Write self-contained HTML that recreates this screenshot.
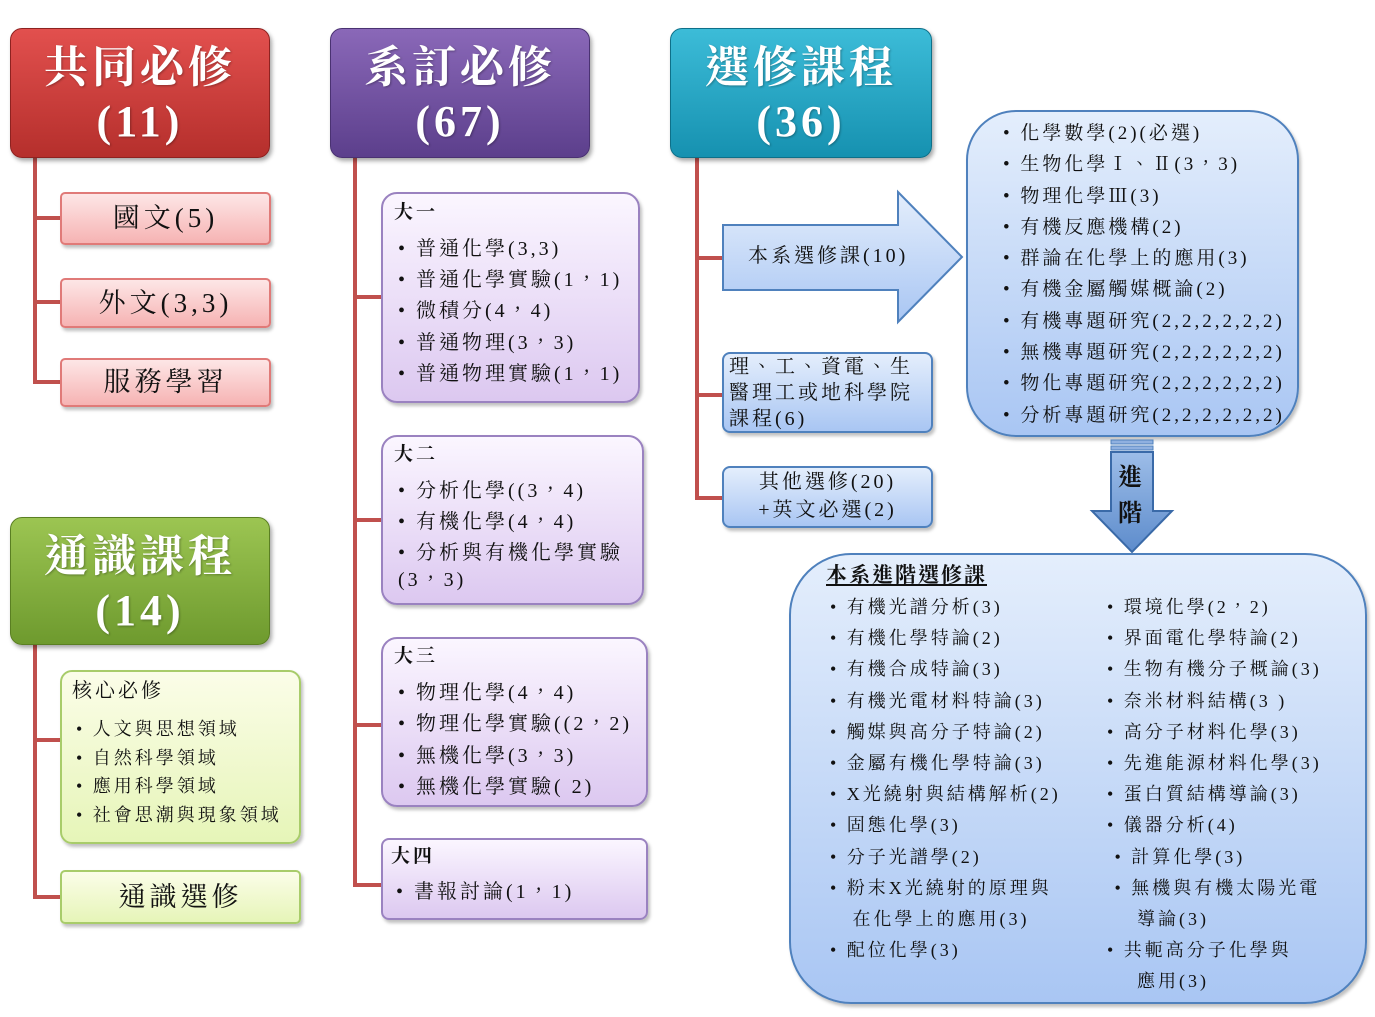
<!DOCTYPE html>
<html><head><meta charset="utf-8"><style>
body{margin:0;width:1375px;height:1017px;background:#fff;position:relative;overflow:hidden;font-family:"Liberation Serif","Noto Serif CJK TC","Noto Serif CJK SC",serif;color:#111}
div{position:absolute;box-sizing:border-box}
.hd{border-radius:12px;color:#fff;text-align:center;font-size:44px;line-height:54px;padding-top:12px;letter-spacing:4px;font-weight:bold;box-shadow:2px 3px 4px rgba(0,0,0,.35);text-shadow:1px 1px 2px rgba(0,0,0,.3)}
.ln{background:#c0504d}
.pk{background:linear-gradient(#fde6e6,#f6b3b3);border:2px solid #e07a78;border-radius:5px;text-align:center;font-size:27px;letter-spacing:4px;box-shadow:2px 3px 3px rgba(0,0,0,.25)}
.pu{background:linear-gradient(#fbf6ff,#dcc8f0);border:2px solid #9a82c0;border-radius:16px;box-shadow:2px 3px 3px rgba(0,0,0,.25)}
.gr{background:linear-gradient(#fbfde8,#e6f5b8);border:2px solid #a8cc6a;border-radius:12px;box-shadow:2px 3px 3px rgba(0,0,0,.25)}
.bl{background:linear-gradient(#e4eefc,#a9c6f3);border:2px solid #4f81bd;box-shadow:2px 3px 3px rgba(0,0,0,.25)}
.tx{white-space:nowrap;letter-spacing:3px}
</style></head><body>

<div class="ln" style="left:33px;top:158px;width:4px;height:226px"></div>
<div class="ln" style="left:33px;top:216px;width:28px;height:4px"></div>
<div class="ln" style="left:33px;top:300px;width:28px;height:4px"></div>
<div class="ln" style="left:33px;top:380px;width:28px;height:4px"></div>

<div class="ln" style="left:33px;top:645px;width:4px;height:254px"></div>
<div class="ln" style="left:33px;top:738px;width:28px;height:4px"></div>
<div class="ln" style="left:33px;top:895px;width:28px;height:4px"></div>

<div class="ln" style="left:353px;top:158px;width:4px;height:729px"></div>
<div class="ln" style="left:353px;top:295px;width:29px;height:4px"></div>
<div class="ln" style="left:353px;top:518px;width:29px;height:4px"></div>
<div class="ln" style="left:353px;top:723px;width:29px;height:4px"></div>
<div class="ln" style="left:353px;top:883px;width:29px;height:4px"></div>

<div class="ln" style="left:695px;top:158px;width:4px;height:342px"></div>
<div class="ln" style="left:695px;top:256px;width:28px;height:4px"></div>
<div class="ln" style="left:695px;top:393px;width:28px;height:4px"></div>
<div class="ln" style="left:695px;top:496px;width:28px;height:4px"></div>

<div class="hd" style="left:10px;top:28px;width:260px;height:130px;background:linear-gradient(#e2504e,#b52f2c);border:1px solid #8e2220">共同必修<br>(11)</div>
<div class="hd" style="left:330px;top:28px;width:260px;height:130px;background:linear-gradient(#8a68b8,#5c3f8c);border:1px solid #4a3272">系訂必修<br>(67)</div>
<div class="hd" style="left:670px;top:28px;width:262px;height:130px;background:linear-gradient(#3cbcd8,#1691b0);border:1px solid #0e7089">選修課程<br>(36)</div>
<div class="hd" style="left:10px;top:517px;width:260px;height:128px;background:linear-gradient(#9cc552,#6e9a2e);border:1px solid #5a7f22">通識課程<br>(14)</div>

<div class="pk" style="left:60px;top:192px;width:211px;height:53px;line-height:49px">國文(5)</div>
<div class="pk" style="left:60px;top:278px;width:211px;height:50px;line-height:46px">外文(3,3)</div>
<div class="pk" style="left:60px;top:358px;width:211px;height:49px;line-height:45px">服務學習</div>

<div class="gr" style="left:60px;top:670px;width:241px;height:174px"></div>
<div class="tx" style="left:72px;top:678px;font-size:20px;line-height:26px">核心必修</div>
<div class="tx" style="left:76px;top:715px;font-size:18px;line-height:28.7px">• 人文與思想領域<br>• 自然科學領域<br>• 應用科學領域<br>• 社會思潮與現象領域</div>
<div class="gr" style="left:60px;top:870px;width:241px;height:54px;text-align:center;font-size:27px;line-height:50px;letter-spacing:4px;border-radius:5px">通識選修</div>

<div class="pu" style="left:381px;top:192px;width:259px;height:211px"></div>
<div class="tx" style="left:394px;top:201px;font-size:19px;line-height:24px;font-weight:bold">大一</div>
<div class="tx" style="left:398px;top:234px;font-size:20px;line-height:31.2px">• 普通化學(3,3)<br>• 普通化學實驗(1，1)<br>• 微積分(4，4)<br>• 普通物理(3，3)<br>• 普通物理實驗(1，1)</div>

<div class="pu" style="left:381px;top:435px;width:263px;height:170px"></div>
<div class="tx" style="left:394px;top:443px;font-size:19px;line-height:24px;font-weight:bold">大二</div>
<div class="tx" style="left:398px;top:476px;font-size:20px;line-height:31px">• 分析化學((3，4)<br>• 有機化學(4，4)<br>• 分析與有機化學實驗</div>
<div class="tx" style="left:398px;top:568px;font-size:20px;line-height:24px">(3，3)</div>

<div class="pu" style="left:381px;top:637px;width:267px;height:170px"></div>
<div class="tx" style="left:394px;top:645px;font-size:19px;line-height:24px;font-weight:bold">大三</div>
<div class="tx" style="left:398px;top:678px;font-size:20px;line-height:31.3px">• 物理化學(4，4)<br>• 物理化學實驗((2，2)<br>• 無機化學(3，3)<br>• 無機化學實驗( 2)</div>

<div class="pu" style="left:381px;top:838px;width:267px;height:82px;border-radius:8px"></div>
<div class="tx" style="left:391px;top:845px;font-size:19px;line-height:24px;font-weight:bold">大四</div>
<div class="tx" style="left:396px;top:877px;font-size:20px;line-height:31px">• 書報討論(1，1)</div>

<svg style="position:absolute;left:715px;top:185px" width="260" height="145">
<defs><linearGradient id="ga" x1="0" y1="0" x2="0" y2="1"><stop offset="0" stop-color="#e4eefc"/><stop offset="1" stop-color="#a9c6f3"/></linearGradient>
<linearGradient id="gd" x1="0" y1="0" x2="0" y2="1"><stop offset="0" stop-color="#9dbde8"/><stop offset="1" stop-color="#5d8ccc"/></linearGradient></defs>
<polygon points="8,40 183,40 183,7 247,72 183,137 183,105 8,105" fill="url(#ga)" stroke="#4f81bd" stroke-width="2"/>
</svg>
<div class="tx" style="left:748px;top:243px;font-size:20px;line-height:26px">本系選修課(10)</div>

<div class="bl" style="left:722px;top:352px;width:211px;height:81px;border-radius:8px"></div>
<div class="tx" style="left:729px;top:354px;font-size:20px;line-height:26px">理、工、資電、生<br>醫理工或地科學院<br>課程(6)</div>
<div class="bl" style="left:722px;top:466px;width:211px;height:62px;border-radius:8px"></div>
<div class="tx" style="left:722px;top:468px;width:211px;text-align:center;font-size:20px;line-height:28px">其他選修(20)<br>+英文必選(2)</div>

<div class="bl" style="left:966px;top:110px;width:333px;height:327px;border-radius:50px"></div>
<div class="tx" style="left:1003px;top:118px;font-size:19px;line-height:31.3px">• 化學數學(2)(必選)<br>• 生物化學Ⅰ、Ⅱ(3，3)<br>• 物理化學Ⅲ(3)<br>• 有機反應機構(2)<br>• 群論在化學上的應用(3)<br>• 有機金屬觸媒概論(2)<br>• 有機專題研究(2,2,2,2,2,2)<br>• 無機專題研究(2,2,2,2,2,2)<br>• 物化專題研究(2,2,2,2,2,2)<br>• 分析專題研究(2,2,2,2,2,2)</div>

<svg style="position:absolute;left:1088px;top:438px" width="90" height="118">
<rect x="23" y="2" width="42" height="4" fill="#8fb0e0" stroke="#4f81bd"/>
<rect x="23" y="8" width="42" height="4" fill="#8fb0e0" stroke="#4f81bd"/>
<polygon points="23,14 65,14 65,73 84,73 44,114 4,73 23,73" fill="url(#gd)" stroke="#3a6aa8" stroke-width="2"/>
</svg>
<div style="left:1118px;top:460px;font-size:24px;line-height:36px;font-weight:bold;width:30px">進<br>階</div>

<div class="bl" style="left:789px;top:553px;width:578px;height:451px;border-radius:62px"></div>
<div class="tx" style="left:826px;top:561px;font-size:21px;line-height:28px;font-weight:bold;text-decoration:underline;letter-spacing:2px">本系進階選修課</div>
<div class="tx" style="left:830px;top:592px;font-size:18px;line-height:31.2px">• 有機光譜分析(3)<br>• 有機化學特論(2)<br>• 有機合成特論(3)<br>• 有機光電材料特論(3)<br>• 觸媒與高分子特論(2)<br>• 金屬有機化學特論(3)<br>•  X光繞射與結構解析(2)<br>• 固態化學(3)<br>• 分子光譜學(2)<br>• 粉末X光繞射的原理與<br>&nbsp;&nbsp;&nbsp;在化學上的應用(3)<br>• 配位化學(3)</div>
<div class="tx" style="left:1107px;top:592px;font-size:18px;line-height:31.2px">• 環境化學(2，2)<br>• 界面電化學特論(2)<br>• 生物有機分子概論(3)<br>• 奈米材料結構(3 )<br>• 高分子材料化學(3)<br>• 先進能源材料化學(3)<br>• 蛋白質結構導論(3)<br>• 儀器分析(4)<br>&nbsp;• 計算化學(3)<br>&nbsp;• 無機與有機太陽光電<br>&nbsp;&nbsp;&nbsp;&nbsp;導論(3)<br>• 共軛高分子化學與<br>&nbsp;&nbsp;&nbsp;&nbsp;應用(3)</div>
</body></html>
